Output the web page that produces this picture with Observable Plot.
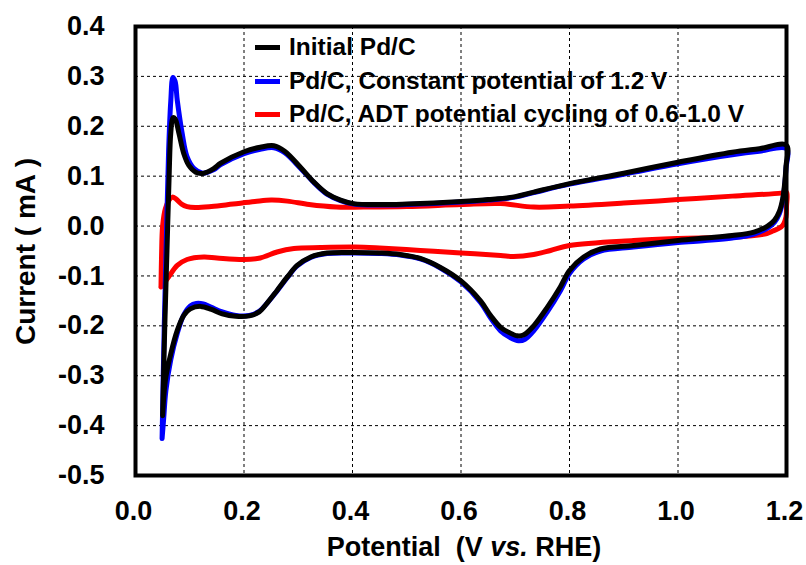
<!DOCTYPE html>
<html><head><meta charset="utf-8">
<script src="https://cdn.jsdelivr.net/npm/d3@7"></script>
<script src="https://cdn.jsdelivr.net/npm/@observablehq/plot@0.6"></script>
<style>
body{margin:0;background:#fff;}
#chart{position:relative;width:806px;height:565px;font-family:"Liberation Sans",Arial,sans-serif;font-weight:bold;color:#000;}
#chart svg{position:absolute;left:0;top:0;}
.lg{position:absolute;left:255px;font-size:24.5px;white-space:pre;line-height:1;display:flex;align-items:center;}
.lg span.sw{display:inline-block;width:25px;height:5px;margin-right:9px;}
#xtitle{position:absolute;left:0;width:928px;text-align:center;top:532px;font-size:27px;white-space:pre;}
</style></head><body><div id="chart"></div>
<script>
// Initial Pd/C (anodic sweep then cathodic sweep)
const blackV=[0.050,0.054,0.058,0.062,0.065,0.069,0.073,0.080,0.089,0.098,0.111,0.126,0.144,0.157,0.200,0.230,0.255,0.275,0.304,0.329,0.353,0.378,0.402,0.450,0.500,0.550,0.600,0.650,0.700,0.734,0.800,0.900,1.000,1.100,1.150,1.200,
  1.199,1.197,1.193,1.187,1.178,1.165,1.140,1.100,1.050,1.000,0.918,0.857,0.826,0.800,0.783,0.759,0.734,0.716,0.704,0.688,0.673,0.655,0.636,0.600,0.562,0.525,0.488,0.450,0.404,0.353,0.323,0.298,0.280,0.261,0.243,0.228,0.210,0.185,0.160,0.140,0.120,0.101,0.089,0.077,0.065,0.055,0.050];
const blackI=[-0.380,-0.200,-0.050,0.100,0.186,0.217,0.215,0.186,0.145,0.122,0.108,0.106,0.115,0.126,0.149,0.158,0.161,0.150,0.118,0.088,0.065,0.052,0.045,0.043,0.044,0.046,0.049,0.053,0.059,0.068,0.085,0.106,0.128,0.148,0.155,0.162,
  0.120,0.090,0.055,0.030,0.012,0.000,-0.012,-0.019,-0.024,-0.029,-0.039,-0.046,-0.062,-0.089,-0.122,-0.163,-0.200,-0.218,-0.220,-0.213,-0.203,-0.180,-0.150,-0.110,-0.083,-0.065,-0.057,-0.054,-0.053,-0.054,-0.062,-0.079,-0.102,-0.129,-0.154,-0.172,-0.180,-0.181,-0.176,-0.167,-0.161,-0.166,-0.179,-0.209,-0.256,-0.310,-0.380];
// Pd/C, constant potential of 1.2 V
const blueV=[0.049,0.053,0.057,0.061,0.065,0.069,0.073,0.077,0.086,0.095,0.108,0.124,0.144,0.157,0.200,0.230,0.255,0.275,0.304,0.329,0.353,0.378,0.402,0.450,0.500,0.550,0.600,0.650,0.700,0.734,0.800,0.900,1.000,1.100,1.150,1.200,
  1.199,1.197,1.193,1.187,1.178,1.165,1.140,1.100,1.050,1.000,0.918,0.857,0.826,0.800,0.783,0.759,0.734,0.718,0.706,0.690,0.673,0.655,0.636,0.600,0.562,0.525,0.488,0.450,0.404,0.353,0.323,0.298,0.280,0.261,0.243,0.228,0.210,0.185,0.160,0.140,0.125,0.112,0.101,0.089,0.077,0.065,0.056,0.052,0.049];
const blueI=[-0.426,-0.200,-0.020,0.150,0.250,0.298,0.290,0.252,0.186,0.139,0.115,0.106,0.113,0.123,0.145,0.154,0.157,0.147,0.116,0.087,0.064,0.051,0.044,0.042,0.043,0.045,0.048,0.052,0.058,0.067,0.084,0.104,0.125,0.143,0.150,0.155,
  0.115,0.085,0.050,0.025,0.008,-0.004,-0.016,-0.024,-0.029,-0.033,-0.042,-0.050,-0.066,-0.095,-0.130,-0.172,-0.210,-0.227,-0.230,-0.223,-0.210,-0.185,-0.153,-0.112,-0.084,-0.066,-0.058,-0.055,-0.054,-0.055,-0.063,-0.080,-0.103,-0.130,-0.154,-0.171,-0.179,-0.179,-0.172,-0.163,-0.156,-0.155,-0.160,-0.178,-0.215,-0.268,-0.330,-0.385,-0.426];
// Pd/C, ADT potential cycling of 0.6-1.0 V
const redV=[0.047,0.048,0.050,0.055,0.062,0.068,0.075,0.085,0.095,0.110,0.140,0.180,0.220,0.250,0.280,0.320,0.370,0.420,0.500,0.600,0.673,0.734,0.800,0.900,1.000,1.100,1.190,1.200,
  1.200,1.199,1.195,1.190,1.175,1.164,1.103,1.000,0.918,0.800,0.765,0.734,0.697,0.673,0.600,0.525,0.450,0.404,0.341,0.292,0.261,0.230,0.200,0.150,0.126,0.095,0.077,0.061,0.052,0.047];
const redI=[-0.122,-0.060,0.000,0.035,0.052,0.058,0.054,0.044,0.039,0.037,0.039,0.044,0.049,0.052,0.050,0.043,0.038,0.038,0.039,0.043,0.045,0.038,0.040,0.046,0.053,0.060,0.066,0.068,
  0.040,0.018,0.005,-0.002,-0.010,-0.015,-0.022,-0.025,-0.029,-0.039,-0.049,-0.057,-0.061,-0.059,-0.054,-0.049,-0.044,-0.042,-0.043,-0.045,-0.052,-0.064,-0.067,-0.064,-0.062,-0.067,-0.079,-0.102,-0.115,-0.122];

const seriesNames=["Initial Pd/C","Pd/C, Constant potential of 1.2 V","Pd/C, ADT potential cycling of 0.6-1.0 V"];
const seriesColors=["#000000","#0000ff","#ff0000"];
const xTicks=[0,0.2,0.4,0.6,0.8,1.0,1.2];
const xTickLabels=["0.0","0.2","0.4","0.6","0.8","1.0","1.2"];
const yTicks=[-0.5,-0.4,-0.3,-0.2,-0.1,0,0.1,0.2,0.3,0.4];
const yTickLabels=["-0.5","-0.4","-0.3","-0.2","-0.1","0.0","0.1","0.2","0.3","0.4"];

const toRows=(V,I)=>V.map((v,k)=>({V:v,I:I[k]}));
const blackRows=toRows(blackV,blackI), blueRows=toRows(blueV,blueI), redRows=toRows(redV,redI);

const gridStyle={stroke:"#000",strokeOpacity:1,strokeWidth:1,strokeDasharray:"3,3"};
const lineStyle={x:"V",y:"I",curve:"catmull-rom",strokeWidth:5,strokeLinejoin:"round",strokeLinecap:"round"};

const plot=Plot.plot({
  width:806,height:565,
  marginLeft:135,marginRight:20,marginTop:26,marginBottom:90,
  style:{fontFamily:"'Liberation Sans',Arial,sans-serif",fontWeight:"bold",fontSize:"27px",color:"#000",background:"transparent"},
  x:{domain:[0,1.2]},
  y:{domain:[-0.5,0.4]},
  marks:[
    Plot.gridX(xTicks.slice(1,-1),gridStyle),
    Plot.gridY(yTicks.slice(1,-1),gridStyle),
    Plot.line(redRows,{...lineStyle,stroke:seriesColors[2]}),
    Plot.line(blueRows,{...lineStyle,stroke:seriesColors[1]}),
    Plot.line(blackRows,{...lineStyle,stroke:seriesColors[0]}),
    Plot.axisX(xTicks,{tickSize:0,tickPadding:25,dx:-2,label:null,fontSize:27,fontWeight:"bold",tickFormat:d=>xTickLabels[xTicks.indexOf(d)]}),
    Plot.axisY(yTicks,{tickSize:0,tickPadding:31,label:null,fontSize:27,fontWeight:"bold",tickFormat:d=>yTickLabels[yTicks.indexOf(d)]}),
    Plot.frame({stroke:"#000",strokeWidth:4})
  ]
});
const chart=document.getElementById("chart");
chart.appendChild(plot);

// y-axis title
d3.select(plot).append("text")
  .attr("transform","translate(25,251.5) rotate(-90)")
  .attr("text-anchor","middle").attr("dominant-baseline","central")
  .attr("font-size",28).attr("font-weight","bold").attr("fill","#000")
  .text("Current ( mA )");

// legend
const legendTop=[47,81,114];
seriesNames.forEach((name,i)=>{
  const row=d3.select(chart).append("div").attr("class","lg").style("top",(legendTop[i]-12)+"px").style("height","24px");
  row.append("span").attr("class","sw").style("background",seriesColors[i]);
  row.append("span").text(name);
});

// x-axis title
const xt=d3.select(chart).append("div").attr("id","xtitle");
xt.append("span").text("Potential  (V ");
xt.append("i").text("vs.");
xt.append("span").text(" RHE)");
</script>
</body></html>
